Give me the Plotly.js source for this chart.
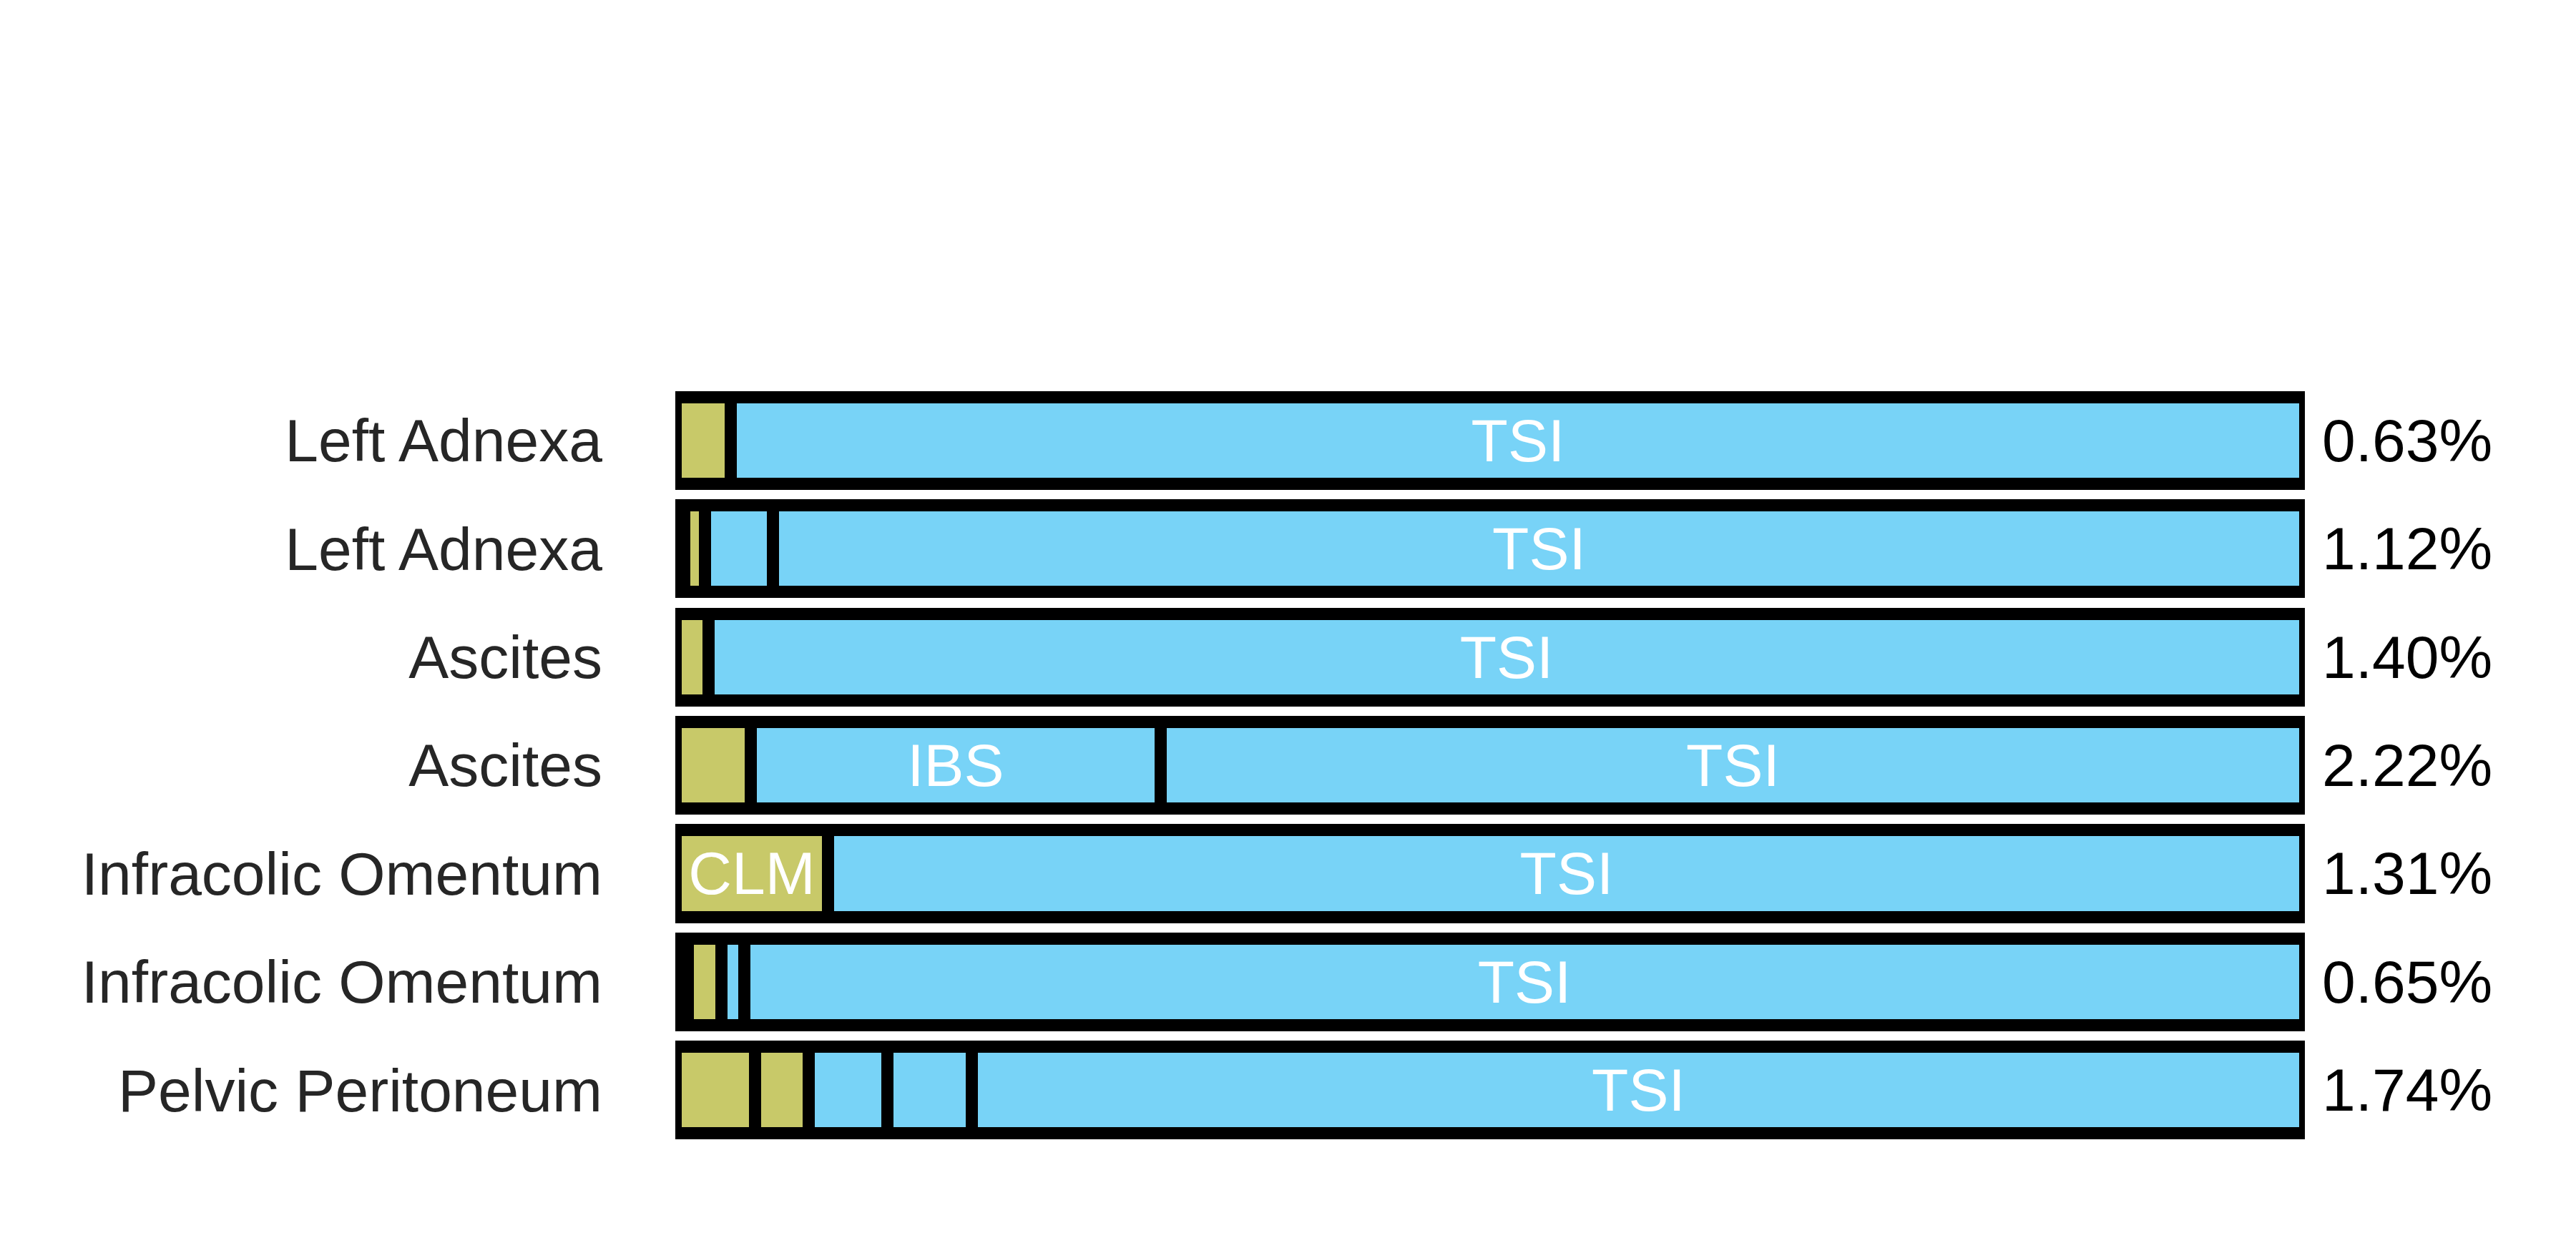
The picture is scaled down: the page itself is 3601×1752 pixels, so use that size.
<!DOCTYPE html>
<html>
<head>
<meta charset="utf-8">
<script src="https://cdn.plot.ly/plotly-3.0.1.min.js"></script>
<style>
  html, body { margin: 0; padding: 0; background: #ffffff; }
  #chart { width: 3601px; height: 1752px; }
</style>
</head>
<body>
<div id="chart"></div>
<script>
// Row categories (top to bottom)
const categories = [
  "Left Adnexa", "Left Adnexa", "Ascites", "Ascites",
  "Infracolic Omentum", "Infracolic Omentum", "Pelvic Peritoneum"
];
// Percent labels on the right
const percentLabels = ["0.63%", "1.12%", "1.40%", "2.22%", "1.31%", "0.65%", "1.74%"];

// Segment fractions per row (left to right)
const segValues = [
  [0.0342, 0.9658],
  [0.0053, 0.0127, 0.0421, 0.9399],
  [0.0202, 0.9798],
  [0.0461, 0.2519, 0.7020],
  [0.0939, 0.9061],
  [0.0078, 0.0207, 0.0137, 0.9578],
  [0.0489, 0.0330, 0.0484, 0.0518, 0.8179]
];
// Segment group per row: "o" = olive, "b" = blue
const segGroups = [
  ["o", "b"],
  ["o", "o", "b", "b"],
  ["o", "b"],
  ["o", "b", "b"],
  ["o", "b"],
  ["o", "o", "b", "b"],
  ["o", "o", "b", "b", "b"]
];
// Segment text labels per row
const segLabels = [
  ["", "TSI"],
  ["", "", "", "TSI"],
  ["", "TSI"],
  ["", "IBS", "TSI"],
  ["CLM", "TSI"],
  ["", "", "", "TSI"],
  ["", "", "", "", "TSI"]
];

const groupColors = { o: "#c8c969", b: "#78d3f7" };
const FONT = "Liberation Sans, Arial, Helvetica, sans-serif";

const maxSeg = Math.max(...segValues.map(r => r.length));
const traces = [];
for (let k = 0; k < maxSeg; k++) {
  const x = [], y = [], colors = [], texts = [];
  segValues.forEach((row, i) => {
    if (k < row.length) {
      x.push(row[k]);
      y.push(i);
      colors.push(groupColors[segGroups[i][k]]);
      texts.push(segLabels[i][k]);
    }
  });
  traces.push({
    type: "bar",
    orientation: "h",
    x: x,
    y: y,
    text: texts,
    textposition: "inside",
    insidetextanchor: "middle",
    constraintext: "none",
    textangle: 0,
    textfont: { family: FONT, size: 84, color: "#ffffff" },
    marker: { color: colors, line: { color: "#000000", width: 17 } },
    hoverinfo: "skip",
    showlegend: false
  });
}

const annotations = percentLabels.map((t, i) => ({
  xref: "paper", yref: "y",
  x: 1, y: i,
  xanchor: "left", yanchor: "middle",
  xshift: 22,
  text: t,
  showarrow: false,
  font: { family: FONT, size: 84, color: "#000000" }
}));

const layout = {
  width: 3601,
  height: 1752,
  paper_bgcolor: "#ffffff",
  plot_bgcolor: "#ffffff",
  barmode: "stack",
  bargap: 0.2,
  margin: { l: 943.5, r: 379, t: 540, b: 152, pad: 0 },
  showlegend: false,
  font: { family: FONT, size: 84, color: "#262626" },
  xaxis: {
    range: [0, 1],
    showgrid: false, zeroline: false, showline: false,
    showticklabels: false, ticks: "", fixedrange: true
  },
  yaxis: {
    range: [6.5, -0.5],
    tickmode: "array",
    tickvals: categories.map((_, i) => i),
    ticktext: categories,
    showgrid: false, zeroline: false, showline: false,
    ticks: "",
    ticklabelstandoff: 101,
    tickfont: { family: FONT, size: 84, color: "#262626" },
    fixedrange: true
  },
  annotations: annotations
};

Plotly.newPlot("chart", traces, layout, { displayModeBar: false, staticPlot: true });
</script>
</body>
</html>
